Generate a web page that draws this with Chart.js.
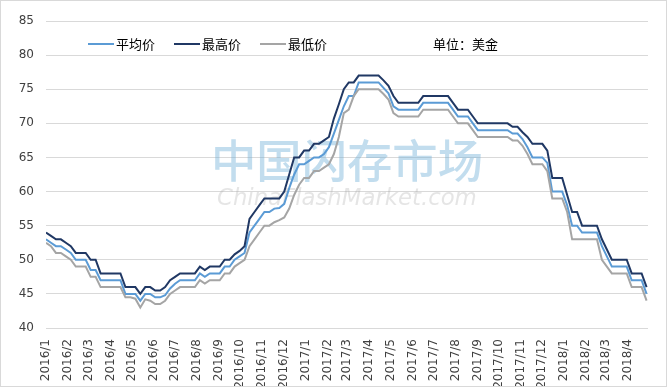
<!DOCTYPE html>
<html>
<head>
<meta charset="utf-8">
<script src="https://cdn.jsdelivr.net/npm/chart.js@4.4.1/dist/chart.umd.min.js"></script>
<style>
  body { margin: 0; background: #fff; }
  #wrap { width: 667px; height: 387px; }
</style>
</head>
<body>
<div id="wrap"><canvas id="priceChart" width="667" height="387"></canvas></div>
<script>
// weekly quotes, first week = 2016-01-01
const startDate = '2016-01-01';
const weekCount = 122;

const monthLabels = [
  '2016/1', '2016/2', '2016/3', '2016/4', '2016/5', '2016/6', '2016/7', '2016/8', '2016/9', '2016/10', '2016/11', '2016/12',
  '2017/1', '2017/2', '2017/3', '2017/4', '2017/5', '2017/6', '2017/7', '2017/8', '2017/9', '2017/10', '2017/11', '2017/12',
  '2018/1', '2018/2', '2018/3', '2018/4'
];

const seriesNames = ['平均价', '最高价', '最低价'];
const seriesColors = ['#5b9bd5', '#203864', '#a5a5a5'];
const unitText = '单位：美金';

const avgPrice = [
  53, 52.5, 52, 52, 51.5, 51, 50, 50, 50, 48.5,
  48.5, 47, 47, 47, 47, 47, 45, 45, 45, 44,
  45, 45, 44.5, 44.5, 44.8, 45.8, 46.5, 47, 47, 47,
  47, 48, 47.5, 48, 48, 48, 49, 49, 50, 50.5,
  51, 54, 55, 56, 57, 57, 57.5, 57.6, 58.2, 60.5,
  62.5, 64, 64, 64.5, 65, 65, 65.5, 66.5, 68.5, 70.5,
  72.5, 74, 74, 76, 76, 76, 76, 76, 75.2, 74.4,
  72.5, 72, 72, 72, 72, 72, 73, 73, 73, 73,
  73, 73, 72, 71, 71, 71, 70, 69, 69, 69,
  69, 69, 69, 69, 68.5, 68.5, 67.7, 66.5, 65, 65,
  65, 64.2, 60, 60, 60, 58, 55, 55, 54, 54,
  54, 54, 52, 50.5, 49, 49, 49, 49, 47, 47,
  47, 45
];

const maxPrice = [
  54, 53.5, 53, 53, 52.5, 52, 51, 51, 51, 50,
  50, 48, 48, 48, 48, 48, 46, 46, 46, 45,
  46, 46, 45.5, 45.5, 46, 47, 47.5, 48, 48, 48,
  48, 49, 48.5, 49, 49, 49, 50, 50, 50.8, 51.3,
  52, 56, 57, 58, 59, 59, 59, 59, 60, 62.5,
  65, 65, 66, 66, 67, 67, 67.5, 68, 70.7, 72.8,
  75, 76, 76, 77, 77, 77, 77, 77, 76.3, 75.5,
  74, 73, 73, 73, 73, 73, 74, 74, 74, 74,
  74, 74, 73, 72, 72, 72, 71, 70, 70, 70,
  70, 70, 70, 70, 69.5, 69.5, 68.7, 68, 67, 67,
  67, 66, 62, 62, 62, 59.5, 57, 57, 55, 55,
  55, 55, 53, 51.5, 50, 50, 50, 50, 48, 48,
  48, 46
];

const minPrice = [
  52.5, 52, 51, 51, 50.5, 50, 49, 49, 49, 47.5,
  47.5, 46, 46, 46, 46, 46, 44.5, 44.5, 44.3, 43,
  44.2, 44, 43.5, 43.5, 44, 45, 45.5, 46, 46, 46,
  46, 47, 46.5, 47, 47, 47, 48, 48, 49, 49.5,
  50, 52, 53, 54, 55, 55, 55.5, 55.8, 56.2, 57.5,
  59.5, 61, 62, 62, 63, 63, 63.5, 64, 65.5, 68,
  71.5, 72, 74, 75, 75, 75, 75, 75, 74.3, 73.5,
  71.5, 71, 71, 71, 71, 71, 72, 72, 72, 72,
  72, 72, 71, 70, 70, 70, 69, 68, 68, 68,
  68, 68, 68, 68, 67.5, 67.5, 66.7, 65.5, 64, 64,
  64, 63, 59, 59, 59, 57, 53, 53, 53, 53,
  53, 53, 50, 49, 48, 48, 48, 48, 46, 46,
  46, 44
];

function dayOffset(str) {
  const [y, m, d] = str.split(/[-\/]/).map(Number);
  const [y0, m0, d0] = startDate.split('-').map(Number);
  return (Date.UTC(y, m - 1, d || 1) - Date.UTC(y0, m0 - 1, d0)) / 86400000;
}

const weekDays = Array.from({ length: weekCount }, (_, i) => i * 7);
const toPoints = arr => arr.map((v, i) => ({ x: weekDays[i], y: v }));

const watermark = {
  id: 'watermark',
  beforeDatasetsDraw(chart) {
    const ctx = chart.ctx;
    ctx.save();
    ctx.textAlign = 'left';
    ctx.textBaseline = 'alphabetic';

    // big chinese title
    ctx.font = '500 40px "Noto Sans CJK SC"';
    let w = ctx.measureText('中国闪存市场').width;
    let size = 40 * 272 / w;
    ctx.font = '500 ' + size + 'px "Noto Sans CJK SC"';
    ctx.fillStyle = 'rgba(110, 175, 215, 0.42)';
    ctx.fillText('中国闪存市场', 211, 178);

    ctx.font = 'italic 20px "DejaVu Sans"';
    w = ctx.measureText('ChinaFlashMarket.com').width;
    size = 20 * 260 / w;
    ctx.font = 'italic ' + size + 'px "DejaVu Sans"';
    ctx.fillStyle = 'rgba(170, 170, 170, 0.3)';
    ctx.fillText('ChinaFlashMarket.com', 217, 205);
    ctx.restore();
  }
};

const legendAndFrame = {
  id: 'legendAndFrame',
  afterDraw(chart) {
    const ctx = chart.ctx;
    ctx.save();
    ctx.font = '13px "Noto Sans CJK SC"';
    ctx.textBaseline = 'middle';
    ctx.textAlign = 'left';
    const y = 44;
    let x = 88;
    chart.data.datasets.forEach(ds => {
      ctx.strokeStyle = ds.borderColor;
      ctx.lineWidth = 2;
      ctx.beginPath();
      ctx.moveTo(x, y);
      ctx.lineTo(x + 26, y);
      ctx.stroke();
      ctx.fillStyle = '#000';
      ctx.fillText(ds.label, x + 28, y);
      x += 28 + ctx.measureText(ds.label).width + 19;
    });
    ctx.fillText(unitText, 433, y);

    ctx.strokeStyle = '#d9d9d9';
    ctx.lineWidth = 1;
    ctx.strokeRect(0.5, 0.5, chart.width - 1, chart.height - 1);
    ctx.restore();
  }
};

Chart.defaults.font.family = '"DejaVu Sans", Verdana, sans-serif';
Chart.defaults.font.size = 12;
Chart.defaults.color = '#404040';

const ctx = document.getElementById('priceChart').getContext('2d');
new Chart(ctx, {
  type: 'line',
  data: {
    datasets: [
      { label: seriesNames[0], data: toPoints(avgPrice), borderColor: seriesColors[0], order: 3 },
      { label: seriesNames[1], data: toPoints(maxPrice), borderColor: seriesColors[1], order: 2 },
      { label: seriesNames[2], data: toPoints(minPrice), borderColor: seriesColors[2], order: 1 }
    ]
  },
  options: {
    responsive: false,
    animation: false,
    devicePixelRatio: 1,
    layout: { padding: { top: 21, right: 19, bottom: 0, left: 0 } },
    elements: {
      line: { borderWidth: 2, tension: 0, fill: false },
      point: { radius: 0 }
    },
    plugins: {
      legend: { display: false },
      tooltip: { enabled: false }
    },
    scales: {
      x: {
        type: 'linear',
        min: 0,
        max: 849,
        afterBuildTicks: scale => {
          scale.ticks = monthLabels.map(l => ({ value: dayOffset(l) }));
        },
        afterFit: scale => { scale.height = 59; },
        ticks: {
          autoSkip: false,
          minRotation: 90,
          maxRotation: 90,
          padding: 3,
          callback: (v, i) => monthLabels[i]
        },
        grid: { display: false },
        border: { display: false }
      },
      y: {
        min: 40,
        max: 85,
        afterFit: scale => { scale.width = 46; },
        ticks: { stepSize: 5, padding: 12 },
        grid: { color: '#d9d9d9', drawTicks: false },
        border: { display: false }
      }
    }
  },
  plugins: [watermark, legendAndFrame]
});
</script>
</body>
</html>
